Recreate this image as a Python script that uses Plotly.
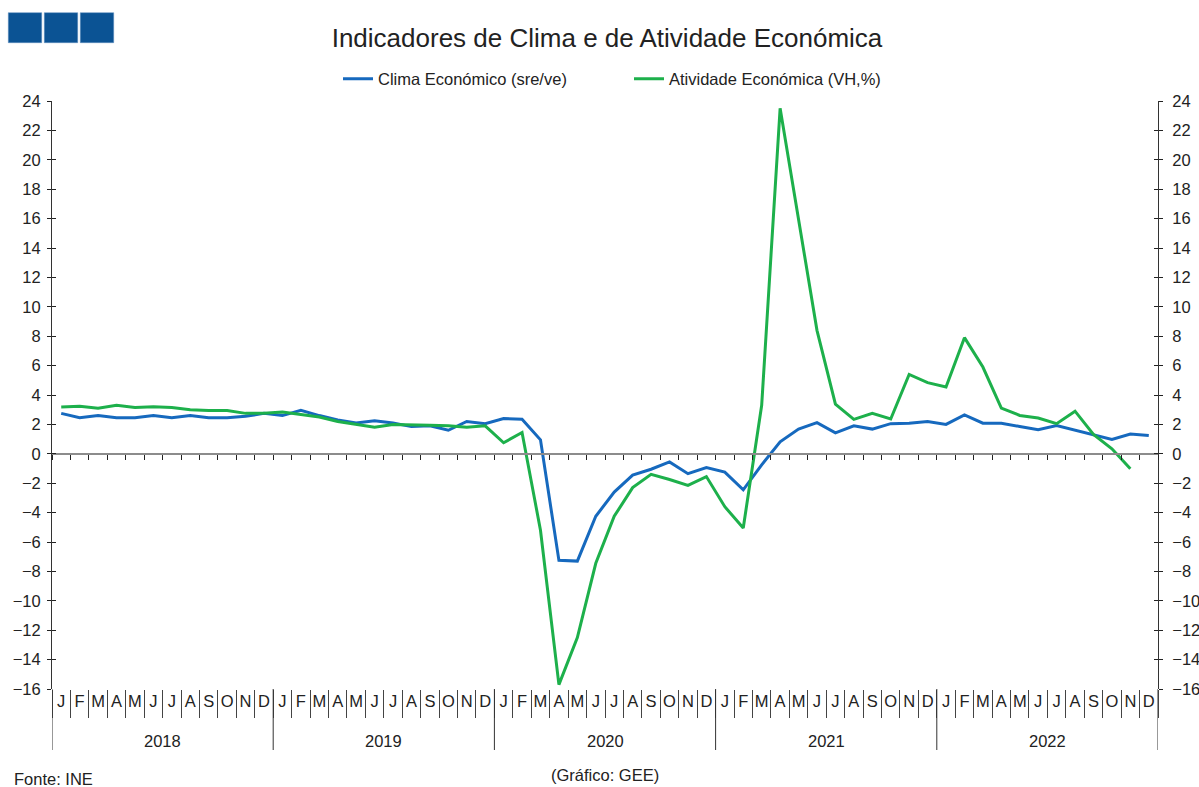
import plotly.graph_objects as go

# dados
meses = ["J", "F", "M", "A", "M", "J", "J", "A", "S", "O", "N", "D"]
anos = [2018, 2019, 2020, 2021, 2022]

clima = [2.75, 2.45, 2.6, 2.45, 2.45, 2.6, 2.45, 2.6, 2.45, 2.45, 2.55, 2.75,
         2.6, 2.95, 2.6, 2.3, 2.1, 2.25, 2.1, 1.85, 1.9, 1.6, 2.2, 2.05,
         2.4, 2.35, 0.95, -7.25, -7.3, -4.25, -2.6, -1.45, -1.05, -0.55, -1.35, -0.93,
         -1.25, -2.45, -0.75, 0.82, 1.68, 2.12, 1.42, 1.9, 1.68, 2.05, 2.08, 2.2,
         2.0, 2.65, 2.08, 2.08, 1.86, 1.64, 1.92, 1.6, 1.3, 0.98, 1.35, 1.25]

atividade = [3.18, 3.23, 3.1, 3.3, 3.15, 3.2, 3.15, 3.0, 2.95, 2.95, 2.75, 2.75,
             2.85, 2.7, 2.5, 2.2, 2.0, 1.8, 2.0, 2.0, 1.95, 1.9, 1.8, 1.9,
             0.75, 1.45, -5.2, -15.7, -12.5, -7.45, -4.25, -2.3, -1.4, -1.75, -2.15, -1.55,
             -3.6, -5.05, 3.3, 23.5, 16.0, 8.4, 3.38, 2.34, 2.75, 2.37, 5.4, 4.84,
             4.55, 7.9, 5.9, 3.11, 2.61, 2.43, 2.05, 2.9, 1.32, 0.34, -1.02]

AZUL = "#1669BE"
VERDE = "#1DB04B"
FONTE = "Liberation Sans, Arial, sans-serif"
TXT = 16.5

W, H = 1199, 787
ml, mr, mt, mb = 52, 41, 101, 98
pw, ph = W - ml - mr, H - mt - mb
ymin, ymax = -16, 24


def px(x):
    return (x - ml) / pw


def py(y):
    return (H - mb - y) / ph


n = len(anos) * 12
idx = list(range(n))
rotulos = meses * len(anos)
limites = [i - 0.5 for i in range(n + 1)]
limites_ano = [i * 12 - 0.5 for i in range(len(anos) + 1)]

fig = go.Figure()
fig.add_trace(go.Scatter(x=idx, y=clima, name="Clima Económico (sre/ve)", mode="lines",
                         line=dict(color=AZUL, width=3)))
fig.add_trace(go.Scatter(x=idx[:len(atividade)], y=atividade, name="Atividade Económica (VH,%)",
                         mode="lines", line=dict(color=VERDE, width=3), yaxis="y2"))
# traços vazios só para os eixos auxiliares serem desenhados
for xa, ya in [("x2", "y"), ("x", "y3"), ("x", "y4")]:
    fig.add_trace(go.Scatter(x=[None], y=[None], xaxis=xa, yaxis=ya, showlegend=False,
                             hoverinfo="skip"))

eixo_y = dict(range=[ymin, ymax], tick0=0, dtick=2, ticks="outside", ticklen=4,
              tickcolor="#222", showline=True, linecolor="#333", linewidth=1, automargin=False,
              showgrid=False, zeroline=False, tickfont=dict(size=TXT, color="#222"))
eixo_y_dentro = dict(range=[ymin, ymax], tick0=0, dtick=2, ticks="inside", ticklen=4,
                     tickcolor="#222", showticklabels=False, showline=False, automargin=False,
                     showgrid=False, zeroline=False, overlaying="y")

shapes = []
for lim in limites_ano:
    shapes.append(dict(type="line", xref="x", yref="paper", x0=lim, x1=lim, y0=0, y1=py(750),
                       line=dict(color="#333", width=1)))
for x0 in [8.3, 44.3, 80.3]:
    shapes.append(dict(type="rect", xref="paper", yref="paper", x0=px(x0), x1=px(x0 + 33.4),
                       y0=py(42.7), y1=py(12.7), fillcolor="#0B5394",
                       line=dict(color="#5f8fbf", width=0.5)))

annotations = [dict(x=i * 12 + 5.5, xref="x", y=py(741), yref="paper", text=str(a), showarrow=False,
                    font=dict(size=TXT, color="#222"), yanchor="middle") for i, a in enumerate(anos)]
annotations.append(dict(x=px(12), y=py(779), xref="paper", yref="paper", text="Fonte: INE",
                        showarrow=False, xanchor="left", yanchor="middle", font=dict(size=TXT, color="#222")))
annotations.append(dict(x=px(605), y=py(775), xref="paper", yref="paper", text="(Gráfico: GEE)",
                        showarrow=False, xanchor="center", yanchor="middle", font=dict(size=TXT, color="#222")))

fig.update_layout(
    width=W, height=H,
    margin=dict(l=ml, r=mr, t=mt, b=mb, autoexpand=False),
    plot_bgcolor="white", paper_bgcolor="white",
    font=dict(family=FONTE, color="#222"),
    title=dict(text="Indicadores de Clima e de Atividade Económica", x=607 / W, y=1 - 38 / H,
               xanchor="center", yanchor="middle", font=dict(size=26, color="#222")),
    legend=dict(orientation="h", x=px(338), y=py(79), xanchor="left", yanchor="middle",
                entrywidth=246, entrywidthmode="pixels", font=dict(size=TXT, color="#222"),
                bgcolor="rgba(0,0,0,0)"),
    xaxis=dict(range=[-0.5, n - 0.5], tickmode="array", tickvals=idx, ticktext=rotulos, ticks="",
               showline=False, showgrid=False, zeroline=False, automargin=False,
               tickfont=dict(size=TXT, color="#222"),
               minor=dict(tickmode="array", tickvals=limites, ticks="outside", ticklen=28,
                          tickcolor="#444", tickwidth=1)),
    xaxis2=dict(overlaying="x", anchor="free", position=(0 - ymin) / (ymax - ymin),
                range=[-0.5, n - 0.5], tickmode="array", tickvals=limites, ticks="outside",
                ticklen=5, tickcolor="#222", showticklabels=False, showline=True, automargin=False,
                linecolor="#8c8c8c", linewidth=2, showgrid=False, zeroline=False),
    yaxis=dict(eixo_y, ticklabelstandoff=3),
    yaxis2=dict(eixo_y, overlaying="y", side="right", ticklabelstandoff=6),
    yaxis3=dict(eixo_y_dentro, side="left"),
    yaxis4=dict(eixo_y_dentro, side="right"),
    shapes=shapes,
    annotations=annotations,
)

fig.write_html("out.html", config={"displayModeBar": False},
               post_script="document.body.style.margin='0';")
